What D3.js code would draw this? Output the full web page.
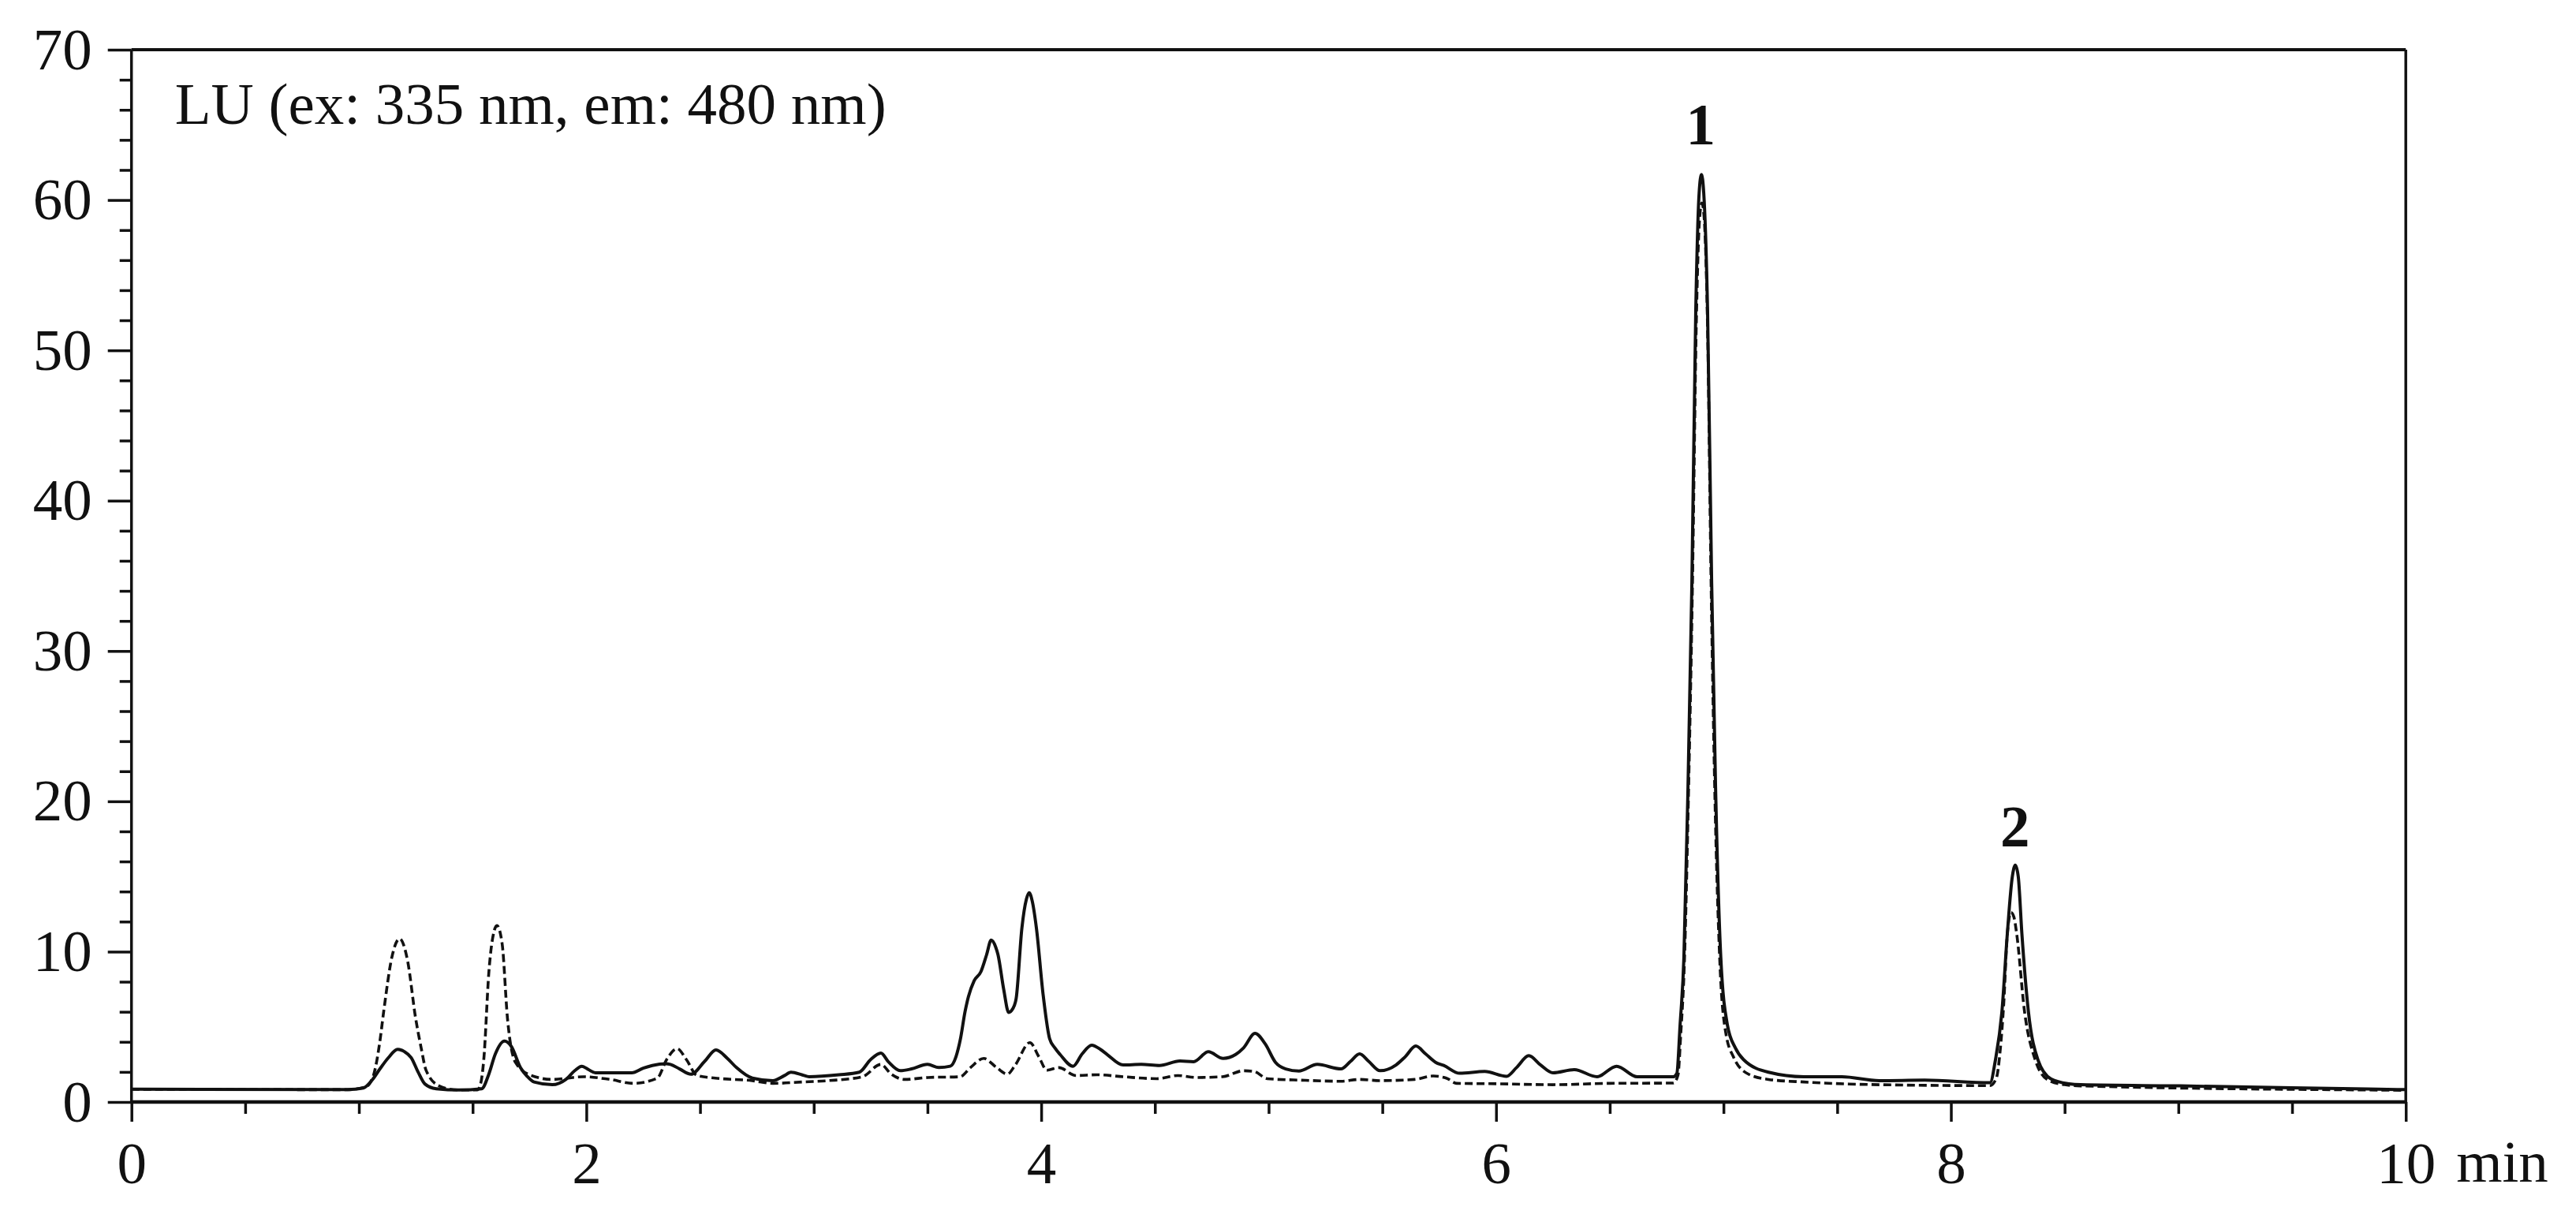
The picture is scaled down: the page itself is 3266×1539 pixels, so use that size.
<!DOCTYPE html>
<html>
<head>
<meta charset="utf-8">
<script src="https://cdn.jsdelivr.net/npm/d3@7"></script>
<style>
  html, body { margin: 0; padding: 0; background: #fff; }
  svg { display: block; }
  text { font-family: "Liberation Serif", "Times New Roman", serif; fill: #111; }
</style>
</head>
<body>
<script>
// ---------------- data ----------------
const solidTime = [0, 0.95, 1.02, 1.06, 1.09, 1.13, 1.17, 1.20, 1.23, 1.26, 1.29, 1.34, 1.44, 1.54, 1.57, 1.60, 1.64, 1.67, 1.71, 1.74, 1.77, 1.85, 1.91, 1.95, 1.98, 2.01, 2.04, 2.20, 2.25, 2.29, 2.35, 2.37, 2.41, 2.46, 2.52, 2.57, 2.62, 2.66, 2.73, 2.82, 2.87, 2.90, 2.95, 2.98, 3.11, 3.20, 3.25, 3.295, 3.33, 3.38, 3.43, 3.50, 3.55, 3.60, 3.625, 3.645, 3.665, 3.68, 3.705, 3.735, 3.76, 3.78, 3.80, 3.81, 3.835, 3.857, 3.875, 3.89, 3.915, 3.935, 3.947, 3.96, 3.979, 4.008, 4.037, 4.06, 4.083, 4.14, 4.18, 4.222, 4.26, 4.29, 4.36, 4.44, 4.52, 4.61, 4.67, 4.735, 4.80, 4.855, 4.89, 4.94, 4.985, 5.03, 5.075, 5.133, 5.214, 5.318, 5.36, 5.40, 5.44, 5.49, 5.56, 5.60, 5.647, 5.69, 5.734, 5.77, 5.84, 5.95, 6.046, 6.09, 6.144, 6.196, 6.25, 6.344, 6.444, 6.53, 6.62, 6.78, 6.795, 6.809, 6.826, 6.844, 6.861, 6.878, 6.893, 6.903, 6.913, 6.930, 6.948, 6.965, 6.988, 7.017, 7.052, 7.088, 7.198, 7.354, 7.52, 7.685, 7.884, 8.172, 8.196, 8.224, 8.248, 8.27, 8.283, 8.296, 8.312, 8.341, 8.382, 8.44, 8.52, 8.57, 9.01, 9.83, 10];
const solidLU   = [0.85, 0.82, 0.93, 1.5, 2.15, 2.95, 3.5, 3.35, 2.95, 2.0, 1.2, 0.88, 0.80, 0.88, 1.8, 3.2, 4.05, 3.7, 2.3, 1.7, 1.33, 1.15, 1.50, 2.1, 2.38, 2.15, 1.94, 1.94, 2.25, 2.43, 2.55, 2.5, 2.2, 1.85, 2.7, 3.46, 2.9, 2.29, 1.59, 1.42, 1.75, 1.98, 1.80, 1.68, 1.81, 1.98, 2.82, 3.25, 2.64, 2.08, 2.20, 2.50, 2.29, 2.38, 3.0, 4.2, 6.0, 7.0, 8.06, 8.67, 9.8, 10.77, 10.3, 9.8, 7.5, 5.96, 6.2, 6.9, 11.56, 13.5, 13.92, 13.4, 11.56, 7.19, 4.21, 3.6, 3.16, 2.38, 3.2, 3.78, 3.5, 3.16, 2.46, 2.50, 2.43, 2.73, 2.68, 3.34, 2.90, 3.16, 3.60, 4.56, 3.86, 2.64, 2.20, 2.06, 2.50, 2.20, 2.7, 3.20, 2.7, 2.08, 2.46, 3.0, 3.72, 3.2, 2.64, 2.43, 1.91, 2.03, 1.71, 2.29, 3.08, 2.46, 1.94, 2.15, 1.68, 2.38, 1.68, 1.68, 1.9, 5.1, 9.65, 21.0, 34.5, 52.6, 60.5, 61.7, 60.5, 52.6, 34.5, 21.0, 9.65, 5.14, 3.6, 2.82, 1.98, 1.68, 1.68, 1.42, 1.45, 1.28, 2.83, 5.97, 11.2, 15.0, 15.76, 15.0, 11.2, 5.97, 2.83, 1.54, 1.21, 1.15, 1.07, 0.86, 0.82];

const dashedTime = [0, 0.95, 1.03, 1.064, 1.09, 1.11, 1.145, 1.179, 1.214, 1.249, 1.275, 1.295, 1.353, 1.434, 1.52, 1.535, 1.549, 1.572, 1.595, 1.607, 1.63, 1.653, 1.688, 1.757, 1.85, 1.988, 2.104, 2.208, 2.312, 2.353, 2.399, 2.44, 2.486, 2.567, 2.729, 2.82, 2.948, 3.064, 3.214, 3.295, 3.341, 3.399, 3.503, 3.643, 3.689, 3.747, 3.804, 3.851, 3.886, 3.95, 3.99, 4.025, 4.077, 4.153, 4.245, 4.361, 4.508, 4.601, 4.682, 4.797, 4.89, 4.936, 4.994, 5.144, 5.318, 5.399, 5.491, 5.642, 5.723, 5.781, 5.827, 6.012, 6.249, 6.5, 6.78, 6.80, 6.812, 6.828, 6.846, 6.863, 6.88, 6.895, 6.905, 6.915, 6.93, 6.946, 6.962, 6.984, 7.01, 7.044, 7.11, 7.198, 7.354, 7.685, 8.172, 8.20, 8.216, 8.232, 8.248, 8.264, 8.277, 8.289, 8.324, 8.37, 8.428, 8.50, 8.57, 9.826, 10];
const dashedLU   = [0.85, 0.82, 1.0, 1.77, 3.8, 6.14, 9.64, 10.86, 9.4, 5.61, 3.5, 2.12, 1.07, 0.80, 0.80, 1.2, 2.82, 8.76, 11.4, 11.74, 10.5, 5.6, 2.64, 1.77, 1.50, 1.68, 1.50, 1.24, 1.59, 2.82, 3.55, 2.82, 1.77, 1.59, 1.42, 1.24, 1.33, 1.42, 1.68, 2.50, 1.85, 1.50, 1.63, 1.68, 2.29, 2.90, 2.29, 1.85, 2.46, 3.95, 3.0, 2.11, 2.29, 1.76, 1.81, 1.68, 1.55, 1.76, 1.63, 1.68, 2.08, 2.03, 1.55, 1.45, 1.38, 1.50, 1.42, 1.50, 1.73, 1.59, 1.24, 1.21, 1.15, 1.24, 1.26, 1.8, 4.5, 9.3, 20.5, 34, 51.5, 58.8, 59.8, 58.8, 51.5, 34, 20.5, 9.3, 4.6, 2.99, 1.85, 1.50, 1.33, 1.15, 1.09, 1.6, 3.34, 6.5, 11.2, 12.61, 12.3, 11.2, 5.97, 2.83, 1.45, 1.15, 1.07, 0.80, 0.78];

const xMajorTicks = [0, 2, 4, 6, 8, 10];
const xMinorTicks = [0.5, 1, 1.5, 2.5, 3, 3.5, 4.5, 5, 5.5, 6.5, 7, 7.5, 8.5, 9, 9.5];
const yMajorTicks = [0, 10, 20, 30, 40, 50, 60, 70];
const yMinorTicks = [2, 4, 6, 8, 12, 14, 16, 18, 22, 24, 26, 28, 32, 34, 36, 38, 42, 44, 46, 48, 52, 54, 56, 58, 62, 64, 66, 68];

const peakLabels = ["1", "2"];
const peakLabelTime = [6.90, 8.282];
const peakLabelLU = [63.7, 17.0];

const detectorLabel = "LU (ex: 335 nm, em: 480 nm)";
const xUnitLabel = "min";

// ---------------- drawing ----------------
(function draw() {
const W = 3266, H = 1539;
const pL = 166.7, pR = 3050.2, pT = 63, pB = 1397;
const FS = 75;
const ink = "#111";

const svg = d3.select("body").append("svg").attr("width", W).attr("height", H);
svg.append("rect").attr("width", W).attr("height", H).attr("fill", "#fff");

const x = d3.scaleLinear().domain([0, 10]).range([pL, pR]);
const y = d3.scaleLinear().domain([0, 70]).range([pB, pT]);

// frame top and right
svg.append("line").attr("x1", pL).attr("x2", pR).attr("y1", y(70)).attr("y2", y(70))
  .attr("stroke", ink).attr("stroke-width", 4);
svg.append("line").attr("x1", pR).attr("x2", pR).attr("y1", y(70)).attr("y2", pB)
  .attr("stroke", ink).attr("stroke-width", 3.5);

// x axis
const gx = svg.append("g").attr("transform", `translate(0,${pB})`);
gx.call(d3.axisBottom(x).tickValues(xMajorTicks).tickSize(25).tickPadding(25).tickFormat(d3.format("d")));
const gxm = svg.append("g").attr("transform", `translate(0,${pB})`);
gxm.call(d3.axisBottom(x).tickValues(xMinorTicks).tickSize(15).tickFormat(""));
[gx, gxm].forEach(g => {
  g.select(".domain").attr("stroke", ink).attr("stroke-width", 4.5);
  g.selectAll(".tick line").attr("stroke", ink).attr("stroke-width", 3.5);
  g.selectAll(".tick text").attr("font-size", FS).attr("fill", ink)
    .attr("font-family", "Liberation Serif, serif");
});
gxm.select(".domain").remove();

// y axis
const gy = svg.append("g").attr("transform", `translate(${pL},0)`);
gy.call(d3.axisLeft(y).tickValues(yMajorTicks).tickSize(30).tickPadding(20).tickFormat(d3.format("d")));
const gym = svg.append("g").attr("transform", `translate(${pL},0)`);
gym.call(d3.axisLeft(y).tickValues(yMinorTicks).tickSize(15).tickFormat(""));
[gy, gym].forEach(g => {
  g.select(".domain").attr("stroke", ink).attr("stroke-width", 3.5);
  g.selectAll(".tick line").attr("stroke", ink).attr("stroke-width", 3.5);
  g.selectAll(".tick text").attr("font-size", FS).attr("fill", ink)
    .attr("font-family", "Liberation Serif, serif");
});
gym.select(".domain").remove();
gy.select(".domain").attr("d", `M0,${y(70)}V${pB}`);
gx.select(".domain").attr("d", `M${pL},0H${pR}`);

// unit label
svg.append("text").attr("x", x(10) + 64).attr("y", pB + 101)
  .attr("font-size", FS).text(xUnitLabel);

// detector label
svg.append("text").attr("x", pL + 55).attr("y", y(70) + 94)
  .attr("font-size", FS).text(detectorLabel);

// traces
const line = d3.line().curve(d3.curveMonotoneX).x(d => x(d[0])).y(d => y(d[1]));
const dashedData = dashedTime.map((t, i) => [t, dashedLU[i]]);
const solidData = solidTime.map((t, i) => [t, solidLU[i]]);

svg.append("path").datum(dashedData).attr("d", line)
  .attr("fill", "none").attr("stroke", ink).attr("stroke-width", 3.6)
  .attr("stroke-dasharray", "10,5").attr("stroke-linejoin", "round");
svg.append("path").datum(solidData).attr("d", line)
  .attr("fill", "none").attr("stroke", ink).attr("stroke-width", 4)
  .attr("stroke-linejoin", "round");

// peak labels
svg.selectAll(".peak").data(peakLabels).enter().append("text")
  .attr("class", "peak")
  .attr("x", (d, i) => x(peakLabelTime[i]))
  .attr("y", (d, i) => y(peakLabelLU[i]))
  .attr("text-anchor", "middle")
  .attr("font-size", FS)
  .attr("font-weight", "bold")
  .text(d => d);
})();
</script>
</body>
</html>
